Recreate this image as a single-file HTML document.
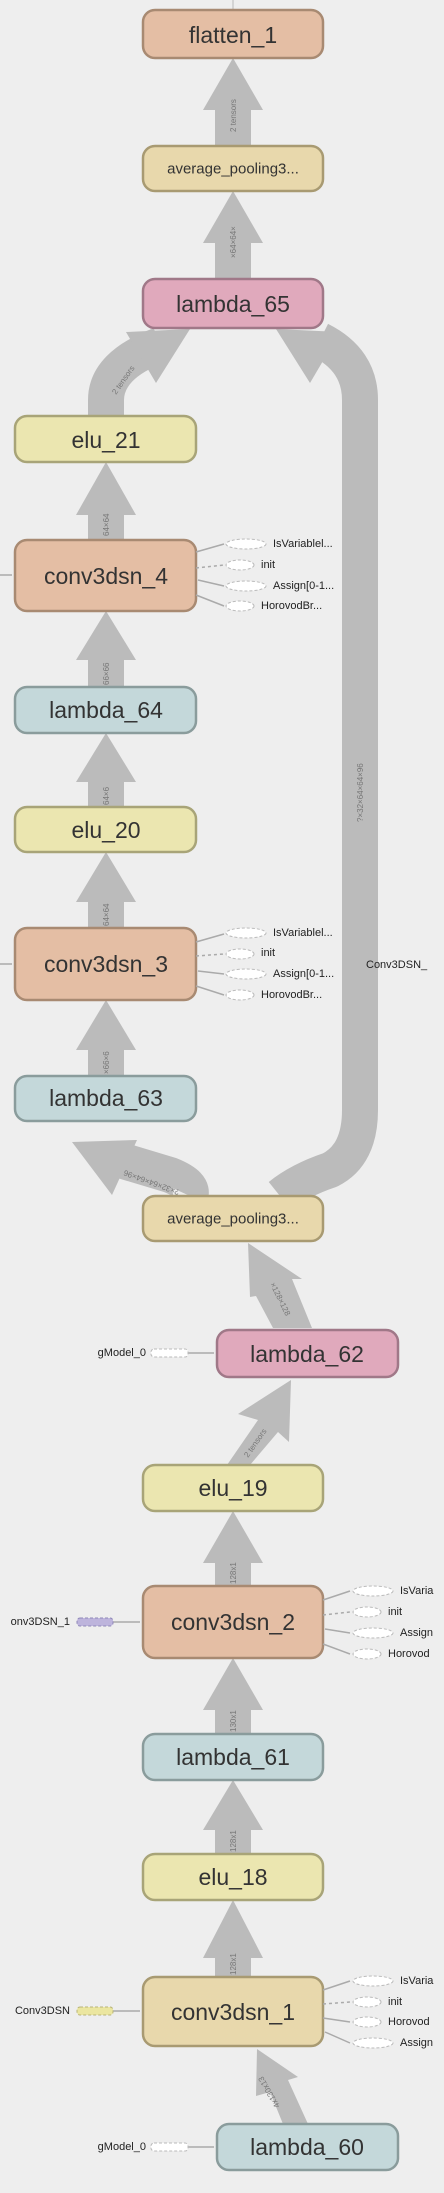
<!DOCTYPE html>
<html><head><meta charset="utf-8"><style>
html,body{margin:0;padding:0;background:#eeeeee;}
svg{display:block;}
text{font-family:"Liberation Sans",sans-serif;}
.n{fill:#333;text-anchor:middle;dominant-baseline:central;}
.e{fill:#777;font-size:8px;}
.s{font-size:11px;fill:#222;}
</style></head><body>
<svg width="444" height="2193" viewBox="0 0 444 2193" xmlns="http://www.w3.org/2000/svg">
<rect width="444" height="2193" fill="#eeeeee"/>
<line x1="233" y1="0" x2="233" y2="10" stroke="#bbb" stroke-width="1"/>
<g fill="#bbb">
<rect x="215" y="100" width="36" height="46"/><polygon points="233,58 203,110 263,110"/>
<rect x="215" y="230" width="36" height="49"/><polygon points="233,191 203,243 263,243"/>
<rect x="88" y="510" width="36" height="30"/><polygon points="106,462 76,515 136,515"/>
<rect x="88" y="655" width="36" height="32"/><polygon points="106,611 76,660 136,660"/>
<rect x="88" y="775" width="36" height="32"/><polygon points="106,733 76,782 136,782"/>
<rect x="88" y="890" width="36" height="38"/><polygon points="106,852 76,902 136,902"/>
<rect x="88" y="1040" width="36" height="36"/><polygon points="106,1000 76,1050 136,1050"/>
<rect x="215" y="1555" width="36" height="31"/><polygon points="233,1511 203,1563 263,1563"/>
<rect x="215" y="1700" width="36" height="34"/><polygon points="233,1658 203,1710 263,1710"/>
<rect x="215" y="1820" width="36" height="34"/><polygon points="233,1780 203,1830 263,1830"/>
<rect x="215" y="1940" width="36" height="37"/><polygon points="233,1900 203,1958 263,1958"/>
</g>
<g fill="none" stroke="#bbb" stroke-width="36">
<path d="M106,416 L106,400 Q106,365 160,345"/>
<path d="M280,1196 Q300,1180 330,1170 Q360,1155 360,1110 L360,400 Q360,360 320,340"/>
<path d="M190,1196 Q195,1185 170,1175 L120,1160"/>
</g>
<g fill="#bbb">
<polygon points="190,329 126,332 156,383"/>
<polygon points="276,329 340,332 310,383"/>
<polygon points="72,1142 137,1140 112,1195"/>
<polygon points="248,1243 302,1279 292,1279 312,1328 273,1328 256,1296 250,1297"/>
<polygon points="291,1380 289,1442 278,1432 250,1465 227,1465 258,1420 238,1414"/>
<polygon points="257,2049 298,2077 288,2080 308,2124 283,2124 270,2092 256,2096"/>
</g>
<g class="e">
<text transform="translate(236,132) rotate(-90)">2 tensors</text>
<text transform="translate(236,258) rotate(-90)">×64×64×</text>
<text transform="translate(116,395) rotate(-55)">2 tensors</text>
<text transform="translate(109,536) rotate(-90)">64×64</text>
<text transform="translate(109,685) rotate(-90)">66×66</text>
<text transform="translate(109,805) rotate(-90)">64×6</text>
<text transform="translate(109,926) rotate(-90)">64×64</text>
<text transform="translate(109,1074) rotate(-90)">×66×6</text>
<text transform="translate(363,822) rotate(-90)">?×32×64×64×96</text>
<text transform="translate(180,1190) rotate(-160)">?×32×64×64×96</text>
<text transform="translate(270,1284) rotate(64)">×128×128</text>
<text transform="translate(248,1458) rotate(-55)">2 tensors</text>
<text transform="translate(236,1584) rotate(-90)">128x1</text>
<text transform="translate(236,1732) rotate(-90)">130x1</text>
<text transform="translate(236,1852) rotate(-90)">128x1</text>
<text transform="translate(236,1975) rotate(-90)">128x1</text>
<text transform="translate(280,2106) rotate(-120)">4x130x13</text>
</g>
<g stroke-width="2.5">
<rect x="143" y="10" width="180" height="48" rx="12" fill="#e4bea4" stroke="#a88a72"/>
<rect x="143" y="146" width="180" height="45" rx="12" fill="#e8d8ac" stroke="#a89a72"/>
<rect x="143" y="279" width="180" height="49" rx="12" fill="#e0a9bc" stroke="#a07888"/>
<rect x="15" y="416" width="181" height="46" rx="12" fill="#ebe6b0" stroke="#a8a478"/>
<rect x="15" y="540" width="181" height="71" rx="12" fill="#e4bea4" stroke="#a88a72"/>
<rect x="15" y="687" width="181" height="46" rx="12" fill="#c4d8da" stroke="#8a9c9c"/>
<rect x="15" y="807" width="181" height="45" rx="12" fill="#ebe6b0" stroke="#a8a478"/>
<rect x="15" y="928" width="181" height="72" rx="12" fill="#e4bea4" stroke="#a88a72"/>
<rect x="15" y="1076" width="181" height="45" rx="12" fill="#c4d8da" stroke="#8a9c9c"/>
<rect x="143" y="1196" width="180" height="45" rx="12" fill="#e8d8ac" stroke="#a89a72"/>
<rect x="217" y="1330" width="181" height="47" rx="12" fill="#e0a9bc" stroke="#a07888"/>
<rect x="143" y="1465" width="180" height="46" rx="12" fill="#ebe6b0" stroke="#a8a478"/>
<rect x="143" y="1586" width="180" height="72" rx="12" fill="#e4bea4" stroke="#a88a72"/>
<rect x="143" y="1734" width="180" height="46" rx="12" fill="#c4d8da" stroke="#8a9c9c"/>
<rect x="143" y="1854" width="180" height="46" rx="12" fill="#ebe6b0" stroke="#a8a478"/>
<rect x="143" y="1977" width="180" height="69" rx="12" fill="#e8d8ac" stroke="#a89a72"/>
<rect x="217" y="2124" width="181" height="46" rx="12" fill="#c4d8da" stroke="#8a9c9c"/>
</g>
<g class="n" font-size="23">
<text x="233" y="35">flatten_1</text>
<text x="233" y="169" font-size="15">average_pooling3...</text>
<text x="233" y="304">lambda_65</text>
<text x="106" y="440">elu_21</text>
<text x="106" y="576">conv3dsn_4</text>
<text x="106" y="710">lambda_64</text>
<text x="106" y="830">elu_20</text>
<text x="106" y="964">conv3dsn_3</text>
<text x="106" y="1098">lambda_63</text>
<text x="233" y="1219" font-size="15">average_pooling3...</text>
<text x="307" y="1354">lambda_62</text>
<text x="233" y="1488">elu_19</text>
<text x="233" y="1622">conv3dsn_2</text>
<text x="233" y="1757">lambda_61</text>
<text x="233" y="1877">elu_18</text>
<text x="233" y="2012">conv3dsn_1</text>
<text x="307" y="2147">lambda_60</text>
</g>
<g stroke="#aaa" stroke-width="1.5" fill="none">
<line x1="0" y1="575" x2="12" y2="575"/><line x1="0" y1="964" x2="12" y2="964"/>
<line x1="196" y1="552" x2="224" y2="544"/><line x1="196" y1="568" x2="224" y2="565" stroke-dasharray="3,3"/><line x1="198" y1="580" x2="224" y2="586"/><line x1="196" y1="595" x2="224" y2="606"/>
<line x1="196" y1="942" x2="224" y2="934"/><line x1="196" y1="956" x2="224" y2="954" stroke-dasharray="3,3"/><line x1="198" y1="971" x2="224" y2="974"/><line x1="196" y1="986" x2="224" y2="995"/>
<line x1="323" y1="1600" x2="350" y2="1591"/><line x1="323" y1="1615" x2="350" y2="1612" stroke-dasharray="3,3"/><line x1="325" y1="1629" x2="350" y2="1633"/><line x1="323" y1="1644" x2="350" y2="1654"/>
<line x1="323" y1="1990" x2="350" y2="1981"/><line x1="323" y1="2004" x2="350" y2="2002" stroke-dasharray="3,3"/><line x1="323" y1="2018" x2="350" y2="2022"/><line x1="325" y1="2032" x2="350" y2="2043"/>
<line x1="113" y1="1622" x2="140" y2="1622"/><line x1="113" y1="2011" x2="140" y2="2011"/>
<line x1="188" y1="1353" x2="214" y2="1353"/><line x1="188" y1="2147" x2="214" y2="2147"/>
</g>
<g fill="#fff" stroke="#bbb" stroke-dasharray="3,2" stroke-width="1">
<ellipse cx="246" cy="544" rx="20" ry="5"/><ellipse cx="240" cy="565" rx="14" ry="5"/><ellipse cx="246" cy="586" rx="20" ry="5"/><ellipse cx="240" cy="606" rx="14" ry="5"/>
<ellipse cx="246" cy="933" rx="20" ry="5"/><ellipse cx="240" cy="954" rx="14" ry="5"/><ellipse cx="246" cy="974" rx="20" ry="5"/><ellipse cx="240" cy="995" rx="14" ry="5"/>
<ellipse cx="373" cy="1591" rx="20" ry="5"/><ellipse cx="367" cy="1612" rx="14" ry="5"/><ellipse cx="373" cy="1633" rx="20" ry="5"/><ellipse cx="367" cy="1654" rx="14" ry="5"/>
<ellipse cx="373" cy="1981" rx="20" ry="5"/><ellipse cx="367" cy="2002" rx="14" ry="5"/><ellipse cx="367" cy="2022" rx="14" ry="5"/><ellipse cx="373" cy="2043" rx="20" ry="5"/>
<rect x="151" y="1349" width="37" height="8" rx="3"/><rect x="151" y="2143" width="37" height="8" rx="3"/>
<rect x="77" y="1618" width="36" height="8" rx="3" fill="#bdb4dc" stroke="#9088b8"/>
<rect x="77" y="2007" width="36" height="8" rx="3" fill="#ebe6a0" stroke="#b8b478"/>
</g>
<g class="s" dominant-baseline="central">
<text x="273" y="544">IsVariablel...</text><text x="261" y="565">init</text><text x="273" y="586">Assign[0-1...</text><text x="261" y="606">HorovodBr...</text>
<text x="273" y="933">IsVariablel...</text><text x="261" y="953">init</text><text x="273" y="974">Assign[0-1...</text><text x="261" y="995">HorovodBr...</text>
<text x="366" y="965">Conv3DSN_</text>
<text x="400" y="1591">IsVaria</text><text x="388" y="1612">init</text><text x="400" y="1633">Assign</text><text x="388" y="1654">Horovod</text>
<text x="400" y="1981">IsVaria</text><text x="388" y="2002">init</text><text x="388" y="2022">Horovod</text><text x="400" y="2043">Assign</text>
<text x="70" y="1622" text-anchor="end">onv3DSN_1</text>
<text x="70" y="2011" text-anchor="end">Conv3DSN</text>
<text x="146" y="1353" text-anchor="end">gModel_0</text>
<text x="146" y="2147" text-anchor="end">gModel_0</text>
</g>
</svg>
</body></html>
